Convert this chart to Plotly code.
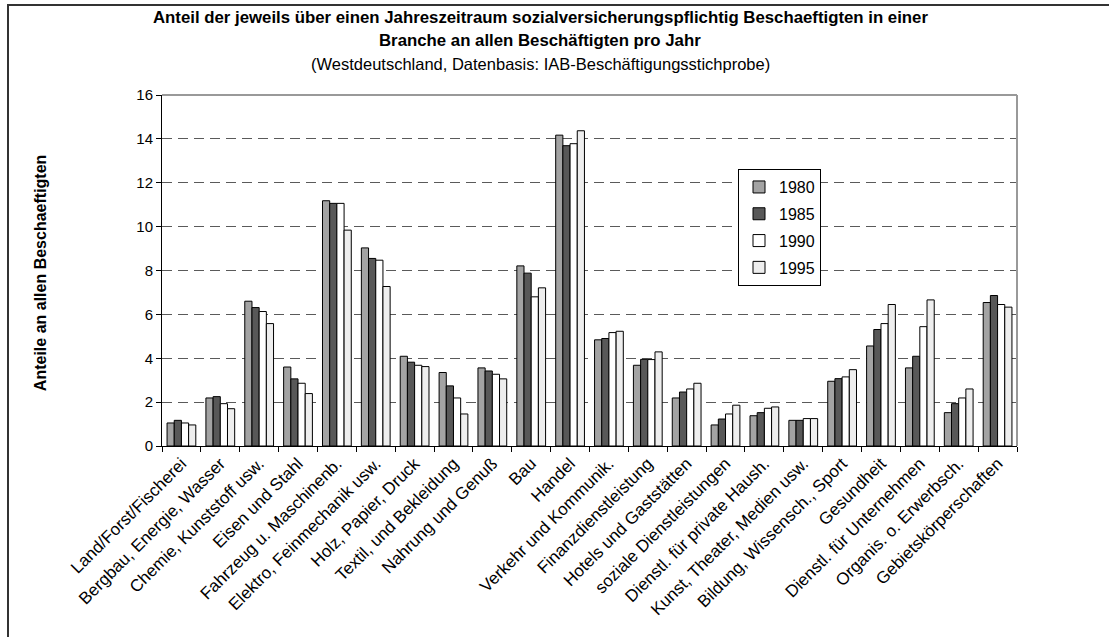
import plotly.graph_objects as go

categories = [
    "Land/Forst/Fischerei", "Bergbau, Energie, Wasser", "Chemie, Kunststoff usw.",
    "Eisen und Stahl", "Fahrzeug u. Maschinenb.", "Elektro, Feinmechanik usw.",
    "Holz, Papier, Druck", "Textil, und Bekleidung", "Nahrung und Genuß", "Bau",
    "Handel", "Verkehr und Kommunik.", "Finanzdienstleistung", "Hotels und Gaststätten",
    "soziale Dienstleistungen", "Dienstl. für private Haush.", "Kunst, Theater, Medien usw.",
    "Bildung, Wissensch., Sport", "Gesundheit", "Dienstl. für Unternehmen",
    "Organis. o. Erwerbsch.", "Gebietskörperschaften",
]

years = ["1980", "1985", "1990", "1995"]

v1980 = [1.05, 2.19, 6.60, 3.60, 11.18, 9.03, 4.09, 3.35, 3.56, 8.21, 14.17, 4.84,
         3.68, 2.19, 0.96, 1.38, 1.17, 2.95, 4.56, 3.56, 1.52, 6.54]
v1985 = [1.17, 2.25, 6.31, 3.06, 11.06, 8.55, 3.82, 2.74, 3.42, 7.88, 13.69, 4.90,
         3.95, 2.46, 1.23, 1.52, 1.17, 3.07, 5.31, 4.09, 1.93, 6.86]
v1990 = [1.05, 1.93, 6.13, 2.86, 11.06, 8.47, 3.68, 2.19, 3.27, 6.80, 13.78, 5.17,
         3.94, 2.60, 1.46, 1.72, 1.25, 3.15, 5.58, 5.44, 2.19, 6.45]
v1995 = [0.96, 1.70, 5.58, 2.39, 9.84, 7.27, 3.62, 1.46, 3.06, 7.21, 14.37, 5.23,
         4.29, 2.86, 1.86, 1.78, 1.25, 3.48, 6.45, 6.66, 2.60, 6.33]

series = [v1980, v1985, v1990, v1995]
colors = ["#a3a3a3", "#585858", "#ffffff", "#eeeeee"]

y_ticks = [0, 2, 4, 6, 8, 10, 12, 14, 16]

fig = go.Figure()
for i, (yr, vals) in enumerate(zip(years, series)):
    fig.add_trace(go.Bar(
        x=categories, y=vals, name=yr, legendgroup=yr,
        marker=dict(color=colors[i], line=dict(color="#000000", width=1)),
    ))

FONT = "Liberation Sans, Arial, sans-serif"

# plot area in page pixels
PL, PR, PT, PB = 162, 1017, 95, 445.7
W, H = 1109, 637


def px(x):
    return (x - PL) / (PR - PL)


def py(y):
    return (PB - y) / (PB - PT)


fig.update_layout(
    width=W, height=H,
    margin=dict(l=PL, r=W - PR, t=PT, b=H - PB, pad=0),
    paper_bgcolor="white", plot_bgcolor="white",
    barmode="group", bargap=0.26, bargroupgap=0,
    font=dict(family=FONT, color="#000000", size=12),
    showlegend=True,
    legend=dict(
        x=px(738), y=py(169), xanchor="left", yanchor="top",
        bordercolor="#000000", borderwidth=1, bgcolor="white",
        font=dict(size=16, family=FONT), tracegroupgap=3,
        itemwidth=30,
    ),
    xaxis=dict(
        type="category", tickangle=-45, tickson="boundaries",
        ticks="outside", ticklen=5, tickcolor="#000000",
        showline=True, linecolor="#000000", linewidth=1,
        showgrid=False, tickfont=dict(size=17, family=FONT),
    ),
    yaxis=dict(
        range=[0, 16], tickvals=y_ticks, ticks="outside", ticklen=5,
        tickcolor="#000000", showline=True, linecolor="#000000", linewidth=1,
        showgrid=True, gridcolor="#5a5a5a", griddash="10px,6px", gridwidth=1.3,
        zeroline=False, tickfont=dict(size=15, family=FONT),
    ),
)

# Title lines as annotations
title_lines = [
    ("<b>Anteil der jeweils über einen Jahreszeitraum sozialversicherungspflichtig Beschaeftigten in einer</b>", 18, 16.8),
    ("<b>Branche an allen Beschäftigten pro Jahr</b>", 41, 16.8),
    ("(Westdeutschland, Datenbasis: IAB-Beschäftigungsstichprobe)", 64, 16.5),
]
for txt, ypix, fs in title_lines:
    fig.add_annotation(
        text=txt, xref="paper", yref="paper",
        x=px(540), y=py(ypix),
        xanchor="center", yanchor="middle", showarrow=False,
        font=dict(size=fs, family=FONT, color="#000000"),
    )

# Y axis title
fig.add_annotation(
    text="<b>Anteile an allen Beschaeftigten</b>", xref="paper", yref="paper",
    x=px(40), y=py(272), xanchor="center", yanchor="middle", showarrow=False,
    textangle=-90, font=dict(size=16, family=FONT, color="#000000"),
)

# plot area top and right border (gray)
fig.add_shape(type="line", xref="paper", yref="paper", x0=0, x1=1, y0=1, y1=1,
              line=dict(color="#999999", width=2))
fig.add_shape(type="line", xref="paper", yref="paper", x0=1, x1=1, y0=0, y1=1,
              line=dict(color="#999999", width=2))

# outer chart frame (top-left corner visible)
fig.add_shape(type="rect", xref="paper", yref="paper",
              x0=px(8), x1=px(1130), y0=py(660), y1=py(5),
              line=dict(color="#333333", width=2), fillcolor="rgba(0,0,0,0)",
              layer="below")

fig.write_html("out.html", config={"displayModeBar": False},
               post_script="document.body.style.margin='0';")
